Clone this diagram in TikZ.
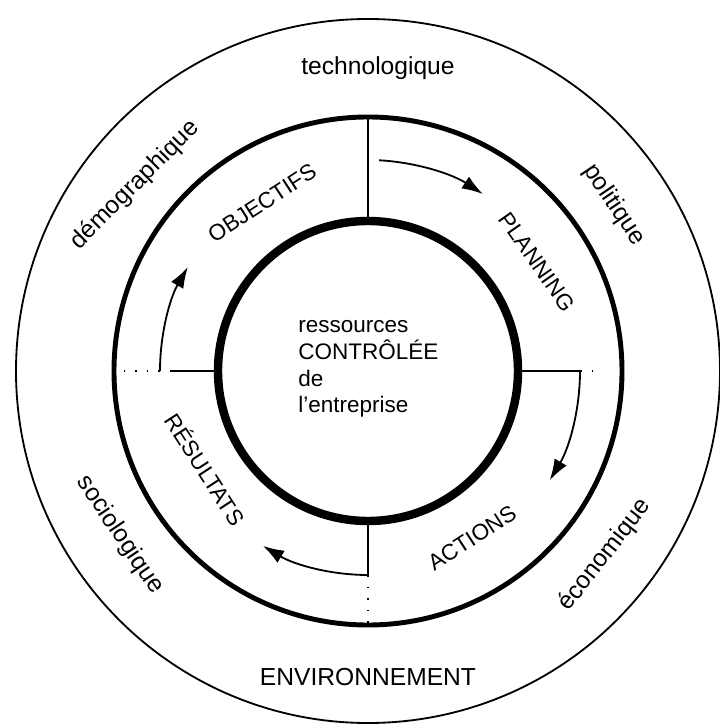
\documentclass[tikz,border=0pt]{standalone}
\usepackage{fontspec}
\setmainfont{Liberation Sans}
\usetikzlibrary{arrows.meta}

\tikzset{
	ringtext/.style={font=\fontsize{16}{19}\selectfont, inner sep=0pt},
	outertext/.style={font=\fontsize{17.5}{20}\selectfont, inner sep=0pt},
	spoke/.style={color=black, line width=2pt},
	link/.style={color=black, line width=1.2pt, dash pattern=on 1.2pt off 7pt},
	flow/.style={color=black, line width=1.3pt, -{Latex[length=15pt,width=10pt]}}
}

\begin{document}
\begin{tikzpicture}[x=0.025cm, y=0.025cm]
	\useasboundingbox (-368,-357) rectangle (351,371);
	\draw[color=black, line width=1.3pt] (0,0) circle[radius=352];
	\draw[color=black, line width=3.5pt] (0,0) circle[radius=254];
	\draw[color=black, line width=6pt] (0,0) circle[radius=150];

	\coordinate (topin) at (90:152);
	\coordinate (topout) at (90:253);
	\coordinate (rightin) at (0:152);
	\coordinate (rightmid) at (0:212);
	\coordinate (rightout) at (0:228);
	\coordinate (botin) at (-90:152);
	\coordinate (botmid) at (-90:204);
	\coordinate (botout) at (-90:253);
	\coordinate (leftin) at (180:152);
	\coordinate (leftmid) at (180:198);
	\coordinate (leftarc) at (180:208);
	\coordinate (leftout) at (180:253);
	\coordinate (toparc) at (87:211);

	\draw[spoke] (topin) -- (topout);
	\draw[spoke] (rightin) -- (rightmid);
	\draw[link] (rightmid) -- (rightout);
	\draw[spoke] (botin) -- (botmid);
	\draw[link] (botmid) -- (botout);
	\draw[spoke] (leftin) -- (leftmid);
	\draw[link] (leftarc) -- (leftout);

	\draw[flow] (toparc) arc[start angle=87, end angle=57, radius=211];
	\draw[flow] (rightmid) arc[start angle=0, end angle=-31, radius=212];
	\draw[flow] (botmid) arc[start angle=-90, end angle=-121, radius=204];
	\draw[flow] (leftarc) arc[start angle=180, end angle=150, radius=208];

	\node[ringtext, align=left, anchor=west] (centre) at (-70,2) {ressources\\CONTRÔLÉE\\de\\l'entreprise};

	\node[ringtext] (objectifs) at (-106,168) [rotate=33] {OBJECTIFS};
	\node[ringtext] (planning) at (169,109) [rotate=-55] {PLANNING};
	\node[ringtext] (actions) at (104,-167) [rotate=33] {ACTIONS};
	\node[ringtext] (resultats) at (-162,-98) [rotate=-57] {RÉSULTATS};

	\node[outertext] (techno) at (10,303) {technologique};
	\node[outertext] (politique) at (246,166) [rotate=-56] {politique};
	\node[outertext] (economique) at (237,-184) [rotate=52] {économique};
	\node[outertext] (sociologique) at (-248,-164) [rotate=-56] {sociologique};
	\node[outertext] (demographique) at (-233,186) [rotate=45] {démographique};
	\node[outertext] (environnement) at (0,-306) {ENVIRONNEMENT};
\end{tikzpicture}
\end{document}
